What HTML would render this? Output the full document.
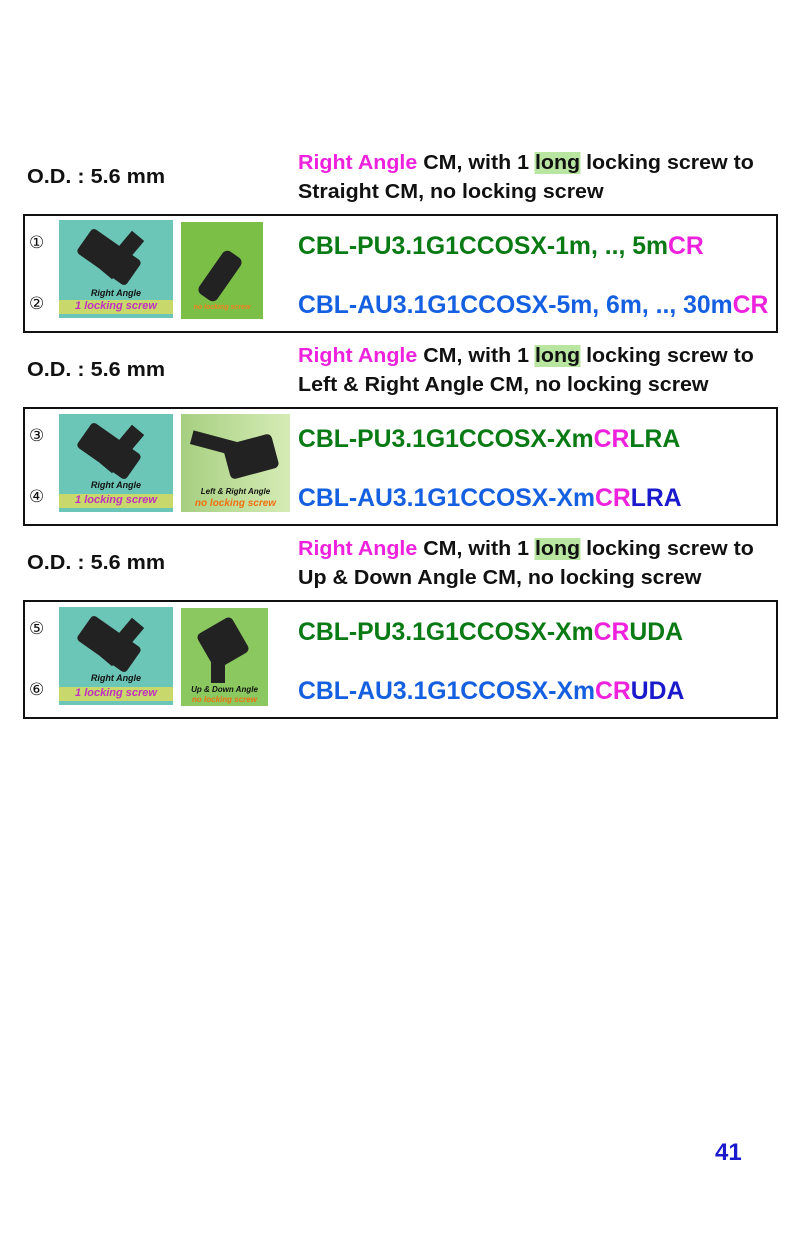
<!DOCTYPE html>
<html><head><meta charset="utf-8"><style>
body{margin:0;width:800px;height:1238px;background:#fff;position:relative;overflow:hidden;font-family:"Liberation Sans",Arial,sans-serif;font-weight:bold}
.a{position:absolute;white-space:nowrap}
.od{font-size:20px;color:#111;transform:scaleX(1.08);transform-origin:left}
.h{font-size:20px;color:#111;transform:scaleX(1.07);transform-origin:left;line-height:29px}
.m{color:#ee22dd}.g{background:#b8e6a0}
.box{position:absolute;left:23px;width:751px;height:115px;border:2px solid #111}
.n{font-size:17px;font-weight:normal;color:#111;font-family:"Liberation Serif",serif}
.pn{font-size:25px;transform:scaleX(.99);transform-origin:left}
.gr{color:#0a7a14}.bl{color:#1560e0}.db{color:#1a1acc}
.img{position:absolute;overflow:hidden}
.t1{background:#6cc6b8}.t2{background:#7cbf46}.t3{background:linear-gradient(90deg,#a6cf80,#d6ecb6)}
.cap{position:absolute;left:0;right:0;text-align:center;font-style:italic;font-size:9px}
</style></head><body>

<div class="a od" style="left:27px;top:166px">O.D. : 5.6 mm</div>
<div class="a h" style="left:298px;top:149px"><span class="m">Right Angle</span> CM, with 1 <span class="g">long</span> locking screw to<br>Straight CM, no locking screw</div>
<div class="box" style="top:214px">
 <div class="a n" style="left:4px;top:17px">①</div>
 <div class="a n" style="left:4px;top:78px">②</div>
 <div class="img t1" style="left:34px;top:4px;width:114px;height:98px">
  <div style="position:absolute;left:20px;top:22px;width:60px;height:30px;background:#222;transform:rotate(35deg);border-radius:4px"></div>
  <div style="position:absolute;left:55px;top:10px;width:16px;height:50px;background:#222;transform:rotate(40deg)"></div>
  <div class="cap" style="top:68px;color:#111">Right Angle</div>
  <div class="cap" style="top:80px;height:14px;background:#c8d86a;color:#c030c0;font-size:11px">1 locking screw</div>
 </div>
 <div class="img t2" style="left:156px;top:6px;width:82px;height:97px">
  <div style="position:absolute;left:28px;top:28px;width:22px;height:52px;background:#222;transform:rotate(35deg);border-radius:6px"></div>
  <div class="cap" style="top:82px;color:#f08020;font-size:7px">no locking screw</div>
 </div>
 <div class="a pn gr" style="left:273px;top:16px">CBL-PU3.1G1CCOSX-1m, .., 5m<span class="m">CR</span></div>
 <div class="a pn bl" style="left:273px;top:75px">CBL-AU3.1G1CCOSX-5m, 6m, .., 30m<span class="m">CR</span></div>
</div>

<div class="a od" style="left:27px;top:359px">O.D. : 5.6 mm</div>
<div class="a h" style="left:298px;top:342px"><span class="m">Right Angle</span> CM, with 1 <span class="g">long</span> locking screw to<br>Left &amp; Right Angle CM, no locking screw</div>
<div class="box" style="top:407px">
 <div class="a n" style="left:4px;top:17px">③</div>
 <div class="a n" style="left:4px;top:78px">④</div>
 <div class="img t1" style="left:34px;top:5px;width:114px;height:98px">
  <div style="position:absolute;left:20px;top:22px;width:60px;height:30px;background:#222;transform:rotate(35deg);border-radius:4px"></div>
  <div style="position:absolute;left:55px;top:10px;width:16px;height:50px;background:#222;transform:rotate(40deg)"></div>
  <div class="cap" style="top:66px;color:#111">Right Angle</div>
  <div class="cap" style="top:80px;height:14px;background:#c8d86a;color:#c030c0;font-size:11px">1 locking screw</div>
 </div>
 <div class="img t3" style="left:156px;top:5px;width:109px;height:98px">
  <div style="position:absolute;left:45px;top:25px;width:50px;height:35px;background:#222;border-radius:5px;transform:rotate(-15deg)"></div>
  <div style="position:absolute;left:10px;top:22px;width:45px;height:14px;background:#222;transform:rotate(15deg)"></div>
  <div class="cap" style="top:73px;color:#111;font-size:8px">Left &amp; Right Angle</div>
  <div class="cap" style="top:84px;color:#f07010;font-size:10px">no locking screw</div>
 </div>
 <div class="a pn gr" style="left:273px;top:16px">CBL-PU3.1G1CCOSX-Xm<span class="m">CR</span>LRA</div>
 <div class="a pn bl" style="left:273px;top:75px">CBL-AU3.1G1CCOSX-Xm<span class="m">CR</span><span class="db">LRA</span></div>
</div>

<div class="a od" style="left:27px;top:552px">O.D. : 5.6 mm</div>
<div class="a h" style="left:298px;top:535px"><span class="m">Right Angle</span> CM, with 1 <span class="g">long</span> locking screw to<br>Up &amp; Down Angle CM, no locking screw</div>
<div class="box" style="top:600px">
 <div class="a n" style="left:4px;top:17px">⑤</div>
 <div class="a n" style="left:4px;top:78px">⑥</div>
 <div class="img t1" style="left:34px;top:5px;width:114px;height:98px">
  <div style="position:absolute;left:20px;top:22px;width:60px;height:30px;background:#222;transform:rotate(35deg);border-radius:4px"></div>
  <div style="position:absolute;left:55px;top:10px;width:16px;height:50px;background:#222;transform:rotate(40deg)"></div>
  <div class="cap" style="top:66px;color:#111">Right Angle</div>
  <div class="cap" style="top:80px;height:14px;background:#c8d86a;color:#c030c0;font-size:11px">1 locking screw</div>
 </div>
 <div class="img t2" style="left:156px;top:6px;width:87px;height:98px;background:#8cc860">
  <div style="position:absolute;left:22px;top:15px;width:40px;height:40px;background:#222;border-radius:5px;transform:rotate(-30deg)"></div>
  <div style="position:absolute;left:30px;top:50px;width:14px;height:25px;background:#222"></div>
  <div class="cap" style="top:77px;color:#111;font-size:8px">Up &amp; Down Angle</div>
  <div class="cap" style="top:87px;color:#f07010;font-size:8px">no locking screw</div>
 </div>
 <div class="a pn gr" style="left:273px;top:16px">CBL-PU3.1G1CCOSX-Xm<span class="m">CR</span>UDA</div>
 <div class="a pn bl" style="left:273px;top:75px">CBL-AU3.1G1CCOSX-Xm<span class="m">CR</span><span class="db">UDA</span></div>
</div>

<div class="a" style="left:715px;top:1139px;font-size:24px;color:#1a1acc">41</div>
</body></html>
